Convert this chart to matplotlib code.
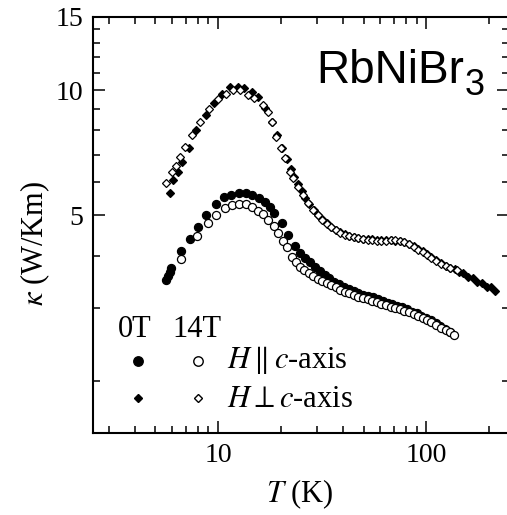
import matplotlib
matplotlib.use("Agg")
import matplotlib.pyplot as plt
from matplotlib.ticker import FixedLocator, FixedFormatter, NullFormatter

plt.rcParams['font.family'] = ['Liberation Serif', 'DejaVu Serif']
plt.rcParams['mathtext.fontset'] = 'stix'

# Thermal conductivity of RbNiBr3, T in K, kappa in W/Km
# H perpendicular to c-axis, 0 T (filled diamonds)
perp_0T_T = [5.85, 6.11, 6.42, 6.74, 7.25, 7.87, 8.72, 9.53, 10.4, 11.4, 12.5, 13.4,
             14.5, 15.6, 16.8, 18.1, 19.2, 20.4, 21.4, 22.4, 23.3, 24.2, 25.2, 26.3,
             27.5, 28.8, 30.2, 31.7, 33.3, 35.0, 36.8, 38.7, 40.7, 42.8, 45.0, 47.3,
             49.8, 52.4, 55.1, 58.0, 61.0, 64.2, 67.5, 71.0, 74.7, 78.6, 82.7, 87.0,
             91.5, 96.3, 101, 106, 112, 118, 124, 130, 137, 144, 151, 159, 167, 176,
             185, 195, 205, 214]
perp_0T_k = [5.67, 6.08, 6.37, 6.71, 7.25, 8.02, 8.71, 9.32, 9.76, 10.15, 10.15, 10.10,
             9.91, 9.60, 9.05, 8.40, 7.80, 7.25, 6.85, 6.48, 6.20, 5.95, 5.72, 5.50,
             5.32, 5.16, 5.02, 4.90, 4.79, 4.70, 4.62, 4.56, 4.51, 4.47, 4.44, 4.42,
             4.40, 4.39, 4.38, 4.37, 4.36, 4.36, 4.36, 4.35, 4.33, 4.31, 4.27, 4.22,
             4.16, 4.10, 4.04, 3.98, 3.91, 3.85, 3.79, 3.75, 3.71, 3.66, 3.63, 3.55,
             3.53, 3.46, 3.44, 3.37, 3.36, 3.29]

# H perpendicular to c-axis, 14 T (open diamonds)
perp_14T_T = [5.64, 6.03, 6.25, 6.54, 6.91, 7.52, 8.22, 9.05, 10.0, 10.9, 11.8, 12.8,
              13.9, 14.9, 16.4, 17.4, 18.1, 19.0, 20.0, 21.0, 22.2, 23.0, 24.3, 25.7,
              27.2, 28.7, 30.2, 31.7, 33.3, 35.0, 36.8, 38.7, 40.7, 42.8, 45.0, 47.3,
              49.8, 52.4, 55.1, 58.0, 61.0, 64.2, 67.5, 71.0, 74.7, 78.6, 82.7, 87.0,
              91.5, 96.3, 101, 106, 112, 118, 124, 130, 140]
perp_14T_k = [5.99, 6.37, 6.57, 6.92, 7.31, 7.80, 8.39, 8.99, 9.50, 9.76, 10.0, 10.0,
              9.73, 9.55, 9.20, 8.87, 8.39, 7.73, 7.25, 6.86, 6.37, 6.14, 5.86, 5.60,
              5.35, 5.15, 5.00, 4.88, 4.78, 4.69, 4.61, 4.55, 4.50, 4.46, 4.43, 4.41,
              4.39, 4.37, 4.36, 4.35, 4.34, 4.35, 4.36, 4.36, 4.34, 4.31, 4.26, 4.20,
              4.14, 4.08, 4.02, 3.96, 3.89, 3.83, 3.78, 3.74, 3.70]

# H parallel to c-axis, 0 T (filled circles)
par_0T_T = [5.64, 5.75, 5.85, 5.96, 6.66, 7.30, 8.01, 8.79, 9.75, 10.66, 11.6, 12.6,
            13.6, 14.6, 15.8, 16.8, 17.7, 18.6, 20.2, 21.8, 23.4, 24.8, 26.3, 27.7,
            29.2, 30.8, 32.5, 34.3, 36.2, 38.2, 40.3, 42.5, 44.8, 47.3, 49.9, 52.6,
            55.5, 58.6, 61.8, 65.2, 68.8, 72.6, 76.6, 80.8, 85.2, 89.9, 94.8, 100,
            105, 111, 117, 123, 130]
par_0T_k = [3.50, 3.58, 3.66, 3.74, 4.10, 4.39, 4.70, 5.01, 5.33, 5.53, 5.60, 5.67,
            5.67, 5.60, 5.50, 5.38, 5.24, 5.08, 4.79, 4.49, 4.23, 4.06, 3.96, 3.86,
            3.77, 3.68, 3.60, 3.53, 3.47, 3.42, 3.37, 3.33, 3.29, 3.26, 3.23, 3.21,
            3.18, 3.15, 3.12, 3.09, 3.06, 3.03, 3.01, 2.98, 2.94, 2.91, 2.87, 2.84,
            2.80, 2.76, 2.71, 2.67, 2.62]

# H parallel to c-axis, 14 T (open circles)
par_14T_T = [6.66, 7.92, 8.95, 9.75, 10.77, 11.7, 12.6, 13.7, 14.6, 15.6, 16.5, 17.4,
             18.6, 19.5, 20.6, 21.4, 22.6, 23.7, 24.8, 26.0, 27.3, 28.7, 30.2, 31.7,
             33.3, 35.0, 36.8, 38.7, 40.7, 42.8, 45.0, 47.3, 49.8, 52.4, 55.1, 58.0,
             61.0, 64.2, 67.5, 71.0, 74.7, 78.6, 82.7, 87.0, 91.5, 96.3, 101, 106,
             112, 118, 124, 130, 136]
par_14T_k = [3.93, 4.47, 4.79, 5.00, 5.20, 5.30, 5.32, 5.32, 5.25, 5.13, 5.03, 4.88,
             4.72, 4.53, 4.35, 4.19, 3.97, 3.86, 3.77, 3.70, 3.63, 3.57, 3.52, 3.48,
             3.44, 3.40, 3.36, 3.32, 3.28, 3.25, 3.22, 3.19, 3.17, 3.15, 3.12, 3.10,
             3.07, 3.05, 3.02, 3.00, 2.98, 2.95, 2.93, 2.90, 2.87, 2.84, 2.81, 2.77,
             2.73, 2.69, 2.65, 2.62, 2.58]

x_major = [10, 100]
x_major_labels = ['10', '100']
x_minor = [3, 4, 5, 6, 7, 8, 9, 20, 30, 40, 50, 60, 70, 80, 90, 200]
y_major = [5, 10, 15]
y_major_labels = ['5', '10', '15']
y_minor = [2, 3, 4, 6, 7, 8, 9, 11, 12, 13, 14]

W, H = 507, 515
fig = plt.figure(figsize=(W / 100, H / 100), dpi=100)
L, R, T_, B = 92.7, 509.0, 16.7, 433.3
ax = fig.add_axes([L / W, 1 - B / H, (R - L) / W, (B - T_) / H])


def fpos(px, py):
    return px / W, 1 - py / H


ax.set_xscale('log')
ax.set_yscale('log')
ax.set_xlim(2.5, 250)
ax.set_ylim(1.5, 15)

ms_c = 5.8
ms_d = 4.3
mew = 0.9
ax.plot(perp_0T_T, perp_0T_k, 'D', ms=ms_d, mfc='black', mec='black', mew=mew, ls='none')
ax.plot(perp_14T_T, perp_14T_k, 'D', ms=ms_d, mfc='white', mec='black', mew=mew, ls='none')
ax.plot(par_0T_T, par_0T_k, 'o', ms=ms_c, mfc='black', mec='black', mew=mew, ls='none')
ax.plot(par_14T_T, par_14T_k, 'o', ms=ms_c, mfc='white', mec='black', mew=mew, ls='none')

ax.xaxis.set_major_locator(FixedLocator(x_major))
ax.xaxis.set_major_formatter(FixedFormatter(x_major_labels))
ax.xaxis.set_minor_locator(FixedLocator(x_minor))
ax.xaxis.set_minor_formatter(NullFormatter())
ax.yaxis.set_major_locator(FixedLocator(y_major))
ax.yaxis.set_major_formatter(FixedFormatter(y_major_labels))
ax.yaxis.set_minor_locator(FixedLocator(y_minor))
ax.yaxis.set_minor_formatter(NullFormatter())

ax.tick_params(which='both', direction='in', top=True, right=True, width=1.1, colors='black')
ax.tick_params(which='major', length=8.6, labelsize=20, pad=7)
ax.tick_params(which='minor', length=5)
for s in ax.spines.values():
    s.set_linewidth(1.5)

# axis labels
fig.text(*fpos(35, 243), r'$\kappa$ (W/Km)', rotation=90, ha='center', va='center', fontsize=22)
fig.text(*fpos(300, 494), r'$T$ (K)', ha='center', va='center', fontsize=22)

# compound name, subscript placed right after the main text
sans = ['Liberation Sans', 'DejaVu Sans']
name = fig.text(*fpos(316, 83.3), 'RbNiBr', family=sans, fontsize=33,
                ha='left', va='baseline')
renderer = fig.canvas.get_renderer()
x_end = name.get_window_extent(renderer).x1
fig.text((x_end + 1) / W, 1 - 95 / H, '3', family=sans, fontsize=26,
         ha='left', va='baseline')

# key
fig.text(*fpos(118, 336.7), '0T', fontsize=22, ha='left', va='baseline')
fig.text(*fpos(172, 336.7), '14T', fontsize=22, ha='left', va='baseline')
fig.text(*fpos(227, 368.3), r'$H \parallel c$-axis', fontsize=22, ha='left', va='baseline')
fig.text(*fpos(227, 406.7), r'$H \perp c$-axis', fontsize=22, ha='left', va='baseline')

key = [((138.3, 360.7), 'o', 'black', 6.8), ((198.3, 360.7), 'o', 'white', 6.8),
       ((138.3, 397.7), 'D', 'black', 4.4), ((198.3, 397.7), 'D', 'white', 4.4)]
for (px, py), m, fc, s in key:
    fx, fy = fpos(px, py)
    ax.plot([fx], [fy], m, ms=s, mfc=fc, mec='black', mew=1.0,
            transform=fig.transFigure, clip_on=False)

fig.savefig('out.png', dpi=100)
